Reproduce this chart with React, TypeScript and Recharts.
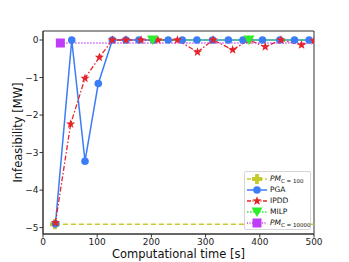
import React from 'react';
import {
  LineChart,
  Line,
  XAxis,
  YAxis,
  ReferenceArea,
} from 'recharts';

// values
const pm100Time = [22, 500];
const pm100Value = [-4.91, -4.91];

const pgaTime = [23, 53, 77.5, 102, 128, 153, 177, 204, 231, 257, 284, 313, 342, 369, 405, 437, 464, 491, 500];
const pgaValue = [-4.9, 0, -3.23, -1.16, 0, 0, 0, 0, 0, 0, 0, 0, 0, 0, 0, 0, 0, 0, 0];

const ipddTime = [23, 51, 77.5, 104, 128, 153, 181, 212, 248, 285, 314, 350, 380, 410, 439, 477, 500];
const ipddValue = [-4.87, -2.24, -1.02, -0.46, 0, 0, 0, 0, 0, -0.32, 0, -0.26, 0, -0.18, 0, -0.13, -0.02];

const milpTime = [202, 380, 500];
const milpValue = [0, 0, 0];

const pm10000Time = [32, 500];
const pm10000Value = [-0.08, -0.08];

const xTicks = [0, 100, 200, 300, 400, 500];
const yTicks = [-5, -4, -3, -2, -1, 0];

const W = 349;
const H = 262;
const FONT = '"DejaVu Sans", sans-serif';

const C_PM100 = '#c3cc2c';
const C_PGA = '#3c7df5';
const C_IPDD = '#e5252b';
const C_MILP = '#2cee2c';
const C_PM10000 = '#c03cf8';

const toRows = (xs: number[], ys: number[]) => xs.map((x, i) => ({ x, y: ys[i] }));

const starPath = (cx: number, cy: number, r: number) => {
  const pts: string[] = [];
  for (let i = 0; i < 10; i++) {
    const rr = i % 2 === 0 ? r : r * 0.42;
    const a = -Math.PI / 2 + (i * Math.PI) / 5;
    pts.push(`${cx + rr * Math.cos(a)},${cy + rr * Math.sin(a)}`);
  }
  return `M${pts.join('L')}Z`;
};

const plusPath = (cx: number, cy: number, r: number) => {
  const t = r * 0.38;
  return `M${cx - t},${cy - r}H${cx + t}V${cy - t}H${cx + r}V${cy + t}H${cx + t}V${cy + r}H${cx - t}V${cy + t}H${cx - r}V${cy - t}H${cx - t}Z`;
};

const Circle = (cx: number, cy: number, key: any) => (
  <circle key={key} cx={cx} cy={cy} r={3.8} fill={C_PGA} />
);
const Star = (cx: number, cy: number, key: any) => (
  <path key={key} d={starPath(cx, cy, 4.8)} fill={C_IPDD} />
);
const Tri = (cx: number, cy: number, key: any) => (
  <path key={key} d={`M${cx - 5.5},${cy - 4.5}L${cx + 5.5},${cy - 4.5}L${cx},${cy + 5}Z`} fill={C_MILP} />
);
const Square = (cx: number, cy: number, key: any) => (
  <rect key={key} x={cx - 4.5} y={cy - 4.5} width={9} height={9} fill={C_PM10000} />
);
const Plus = (cx: number, cy: number, key: any) => (
  <path key={key} d={plusPath(cx, cy, 5)} fill={C_PM100} />
);

// draw marker on every point except the last ones (line extension)
const markerDot = (draw: typeof Circle, count: number) => (props: any) => {
  const { cx, cy, index } = props;
  if (index >= count || cx == null || cy == null) return <g key={`e-${index}`} />;
  return draw(cx, cy, `m-${index}`);
};

const fmt = (v: number) => String(v).replace('-', '\u2212');

const LegendIcon = ({ color, dash, draw }: { color: string; dash?: string; draw: typeof Circle }) => (
  <svg width={22} height={10} style={{ display: 'block', flex: 'none' }}>
    <line x1={1} x2={21} y1={5} y2={5} stroke={color} strokeWidth={1.5} strokeDasharray={dash} />
    {draw(11, 5, 'i')}
  </svg>
);

const sub = { fontSize: 5.5, verticalAlign: 'baseline', position: 'relative' as const, top: 2 };

const legendRows = [
  { color: C_PM100, dash: '4 2', draw: Plus, label: <><i>PM</i><span style={sub}>C = 100</span></> },
  { color: C_PGA, dash: undefined, draw: Circle, label: 'PGA' },
  { color: C_IPDD, dash: '4 1.5 1 1.5', draw: Star, label: 'IPDD' },
  { color: C_MILP, dash: '1.5 1.5', draw: Tri, label: 'MILP' },
  { color: C_PM10000, dash: '1 1.5', draw: Square, label: <><i>PM</i><span style={sub}>C = 10000</span></> },
];

export default function App() {
  return (
    <div style={{ position: 'absolute', left: 0, top: 0, width: W, height: H, background: '#fff', fontFamily: FONT }}>
      <LineChart width={W} height={H} margin={{ top: 31, right: 35, bottom: 0, left: 0 }}>
        <XAxis
          type="number"
          dataKey="x"
          domain={[0, 500]}
          ticks={xTicks}
          height={28}
          stroke="#333"
          tickSize={3.5}
          tickMargin={1}
          tick={{ fill: '#222', fontSize: 9, fontFamily: FONT }}
          allowDataOverflow
          label={{ value: 'Computational time [s]', position: 'insideBottom', offset: 4, fill: '#111', fontSize: 11.5, fontFamily: FONT }}
        />
        <YAxis
          type="number"
          dataKey="y"
          domain={[-5.17, 0.24]}
          ticks={yTicks}
          width={43}
          stroke="#333"
          tickSize={3.5}
          tickMargin={1}
          tickFormatter={fmt}
          tick={{ fill: '#222', fontSize: 9, fontFamily: FONT }}
          allowDataOverflow
          label={{ value: 'Infeasibility [MW]', angle: -90, position: 'insideLeft', offset: 18, style: { textAnchor: 'middle' }, fill: '#111', fontSize: 11.5, fontFamily: FONT }}
        />
        <ReferenceArea x1={0} x2={500} y1={-5.17} y2={0.24} fill="none" stroke="#333" strokeWidth={1} />
        <Line
          data={toRows(pm100Time, pm100Value)}
          dataKey="y"
          stroke={C_PM100}
          strokeWidth={1.5}
          strokeDasharray="5 3"
          dot={markerDot(Plus, 1)}
          activeDot={false}
          isAnimationActive={false}
        />
        <Line
          data={toRows(pgaTime, pgaValue)}
          dataKey="y"
          stroke={C_PGA}
          strokeWidth={1.5}
          dot={markerDot(Circle, pgaTime.length - 1)}
          activeDot={false}
          isAnimationActive={false}
        />
        <Line
          data={toRows(ipddTime, ipddValue)}
          dataKey="y"
          stroke={C_IPDD}
          strokeWidth={1.3}
          strokeDasharray="5 2 1.5 2"
          dot={markerDot(Star, ipddTime.length)}
          activeDot={false}
          isAnimationActive={false}
        />
        <Line
          data={toRows(milpTime, milpValue)}
          dataKey="y"
          stroke={C_MILP}
          strokeWidth={1.5}
          strokeDasharray="1.5 1.5"
          dot={markerDot(Tri, 2)}
          activeDot={false}
          isAnimationActive={false}
        />
        <Line
          data={toRows(pm10000Time, pm10000Value)}
          dataKey="y"
          stroke={C_PM10000}
          strokeWidth={1.3}
          strokeDasharray="1.2 1.8"
          dot={markerDot(Square, 1)}
          activeDot={false}
          isAnimationActive={false}
        />
      </LineChart>
      <div
        style={{
          position: 'absolute',
          left: 244,
          top: 171,
          width: 67,
          height: 59,
          boxSizing: 'border-box',
          border: '1px solid #d6d6d6',
          borderRadius: 2,
          background: 'rgba(255,255,255,0.85)',
          padding: '2px 0 0 1px',
          fontSize: 7.5,
          color: '#111',
        }}
      >
        {legendRows.map((r, i) => (
          <div key={i} style={{ display: 'flex', alignItems: 'center', height: 10.8 }}>
            <LegendIcon color={r.color} dash={r.dash} draw={r.draw} />
            <span style={{ marginLeft: 2, lineHeight: '10px', whiteSpace: 'nowrap' }}>{r.label}</span>
          </div>
        ))}
      </div>
    </div>
  );
}
